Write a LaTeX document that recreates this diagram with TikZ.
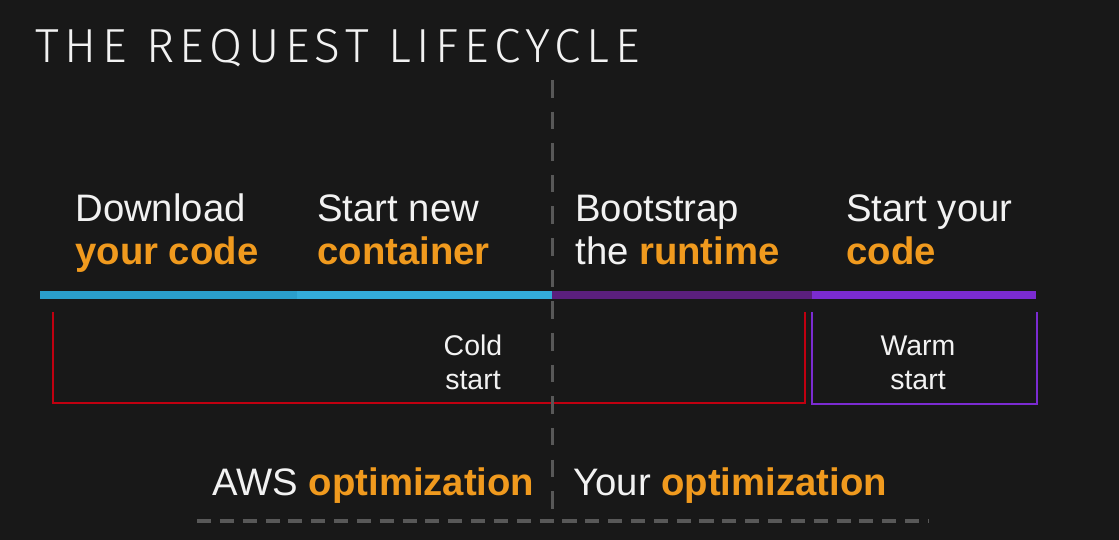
\documentclass[tikz,border=0pt]{standalone}
\usepackage{fontspec}
\setmainfont{Liberation Sans}
\newfontfamily\titlefont[LetterSpace=12]{Fira Sans Light}
\definecolor{bgdark}{HTML}{181818}
\definecolor{txtwhite}{HTML}{F2F2F2}
\definecolor{awsorange}{HTML}{F09A1E}
\definecolor{cyanA}{HTML}{2A9FCC}
\definecolor{cyanB}{HTML}{33ACD9}
\definecolor{purpA}{HTML}{5B1F7D}
\definecolor{purpB}{HTML}{7B2BD1}
\definecolor{coldred}{HTML}{C00010}
\definecolor{dashgray}{HTML}{585858}
\newcommand{\hl}[1]{\textcolor{awsorange}{\bfseries #1}}

\begin{document}
\begin{tikzpicture}[x=0.02cm,y=-0.02cm,
	label/.style={anchor=base west,inner sep=0,text=txtwhite,font=\fontsize{21.8}{25}\selectfont},
	small/.style={anchor=base,inner sep=0,text=txtwhite,font=\fontsize{16.2}{19}\selectfont},
	phase/.style={line width=4.5pt},
	bracket/.style={line width=1.5pt}]
	\fill [bgdark] (0,0) rectangle (1119,540);
	\node [anchor=base west,inner sep=0,text=txtwhite,font=\titlefont\fontsize{27.2}{30}\selectfont] (title) at (35,63) {THE REQUEST LIFECYCLE};

	% the four phases
	\node [label] (dl1) at (75,222) {Download};
	\node [label] (dl2) at (75,265) {\hl{your code}};
	\node [label] (sn1) at (317,222) {Start new};
	\node [label] (sn2) at (317,265) {\hl{container}};
	\node [label] (bs1) at (575,222) {Bootstrap};
	\node [label] (bs2) at (575,265) {the \hl{runtime}};
	\node [label] (sy1) at (846,222) {Start your};
	\node [label] (sy2) at (846,265) {\hl{code}};

	% timeline bar
	\draw [phase, cyanA] (40,295) -- (297,295);
	\draw [phase, cyanB] (297,295) -- (552,295);
	\draw [phase, purpA] (552,295) -- (812,295);
	\draw [phase, purpB] (812,295) -- (1036,295);

	% cold and warm start
	\draw [bracket, coldred] (53,312) -- (53,403) -- (805,403) -- (805,312);
	\draw [bracket, purpB] (812,312) -- (812,404) -- (1037,404) -- (1037,312);
	\node [small] (cold1) at (473,356) {Cold};
	\node [small] (cold2) at (473,390) {start};
	\node [small] (warm1) at (918,356) {Warm};
	\node [small] (warm2) at (918,390) {start};

	% who optimizes
	\node [label] (aws) at (212,495) {AWS \hl{optimization}};
	\node [label] (you) at (573,495) {Your \hl{optimization}};

	\draw [line width=1.7pt, dashgray, dash pattern=on 10pt off 8pt] (552,80) -- (552,510);
	\draw [line width=2.2pt, dashgray, dash pattern=on 8pt off 5pt] (197,521) -- (928,521);
\end{tikzpicture}
\end{document}
